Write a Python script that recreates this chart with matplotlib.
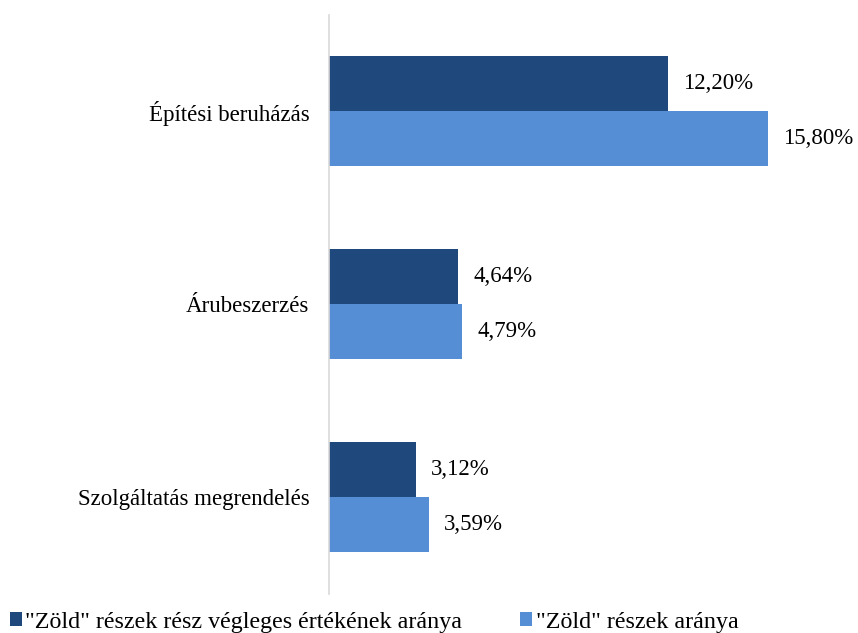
# Grouped horizontal bar chart: share of "green" parts by procurement type.

import numpy as np
import matplotlib.pyplot as plt

# --------------------------- DATA ---------------------------

categories = ['Építési beruházás', 'Árubeszerzés', 'Szolgáltatás megrendelés']
final_share = [12.20, 4.64, 3.12]        # "Zöld" részek rész végleges értékének aránya
green_share = [15.80, 4.79, 3.59]        # "Zöld" részek aránya
series_names = ['"Zöld" részek rész végleges értékének aránya', '"Zöld" részek aránya']

# --------------------------- STYLE ---------------------------

plt.rcParams['font.family'] = ['Liberation Serif', 'DejaVu Serif']
dark_blue = '#1f497d'
light_blue = '#558ed5'
font_size = 16.5
legend_size = 17.3

# --------------------------- PLOT ---------------------------

fig = plt.figure(figsize=(8.58, 6.33), dpi=100)
ax = fig.add_axes([329 / 858, 1 - 593.5 / 633, 500 / 858, 579 / 633])

y = np.arange(len(categories))
bar_h = 0.285

bars1 = ax.barh(y - bar_h / 2, final_share, height=bar_h, color=dark_blue, label=series_names[0])
bars2 = ax.barh(y + bar_h / 2, green_share, height=bar_h, color=light_blue, label=series_names[1])

for bars in (bars1, bars2):
    for b in bars:
        w = b.get_width()
        ax.text(w + 0.55, b.get_y() + b.get_height() / 2, f'{w:.2f}%'.replace('.', ','),
                va='center', ha='left', fontsize=font_size)

ax.set_xlim(0, 500 / 27.78)
ax.set_ylim(len(categories) - 0.5, -0.5)
ax.set_yticks(y)
ax.set_yticklabels(categories, fontsize=font_size)
ax.tick_params(axis='y', length=0, pad=14)
ax.set_xticks([])

for side in ('top', 'right', 'bottom'):
    ax.spines[side].set_visible(False)
ax.spines['left'].set_color('#d9d9d9')
ax.spines['left'].set_linewidth(1.2)

fig.legend(loc='lower left', bbox_to_anchor=(0.003, -0.011), ncol=2, frameon=False,
           fontsize=legend_size, handlelength=0.5, handleheight=0.5, handletextpad=0.15,
           columnspacing=2.4, borderaxespad=0.0, borderpad=0.3)

fig.savefig('out.png', dpi=100)
